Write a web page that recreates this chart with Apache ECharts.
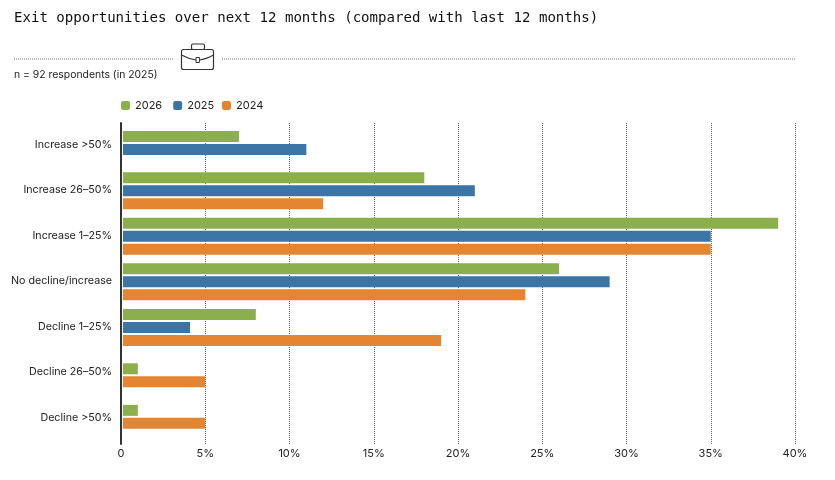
<!DOCTYPE html>
<html><head><meta charset="utf-8">
<style>html,body{margin:0;padding:0;background:#fff}#c{width:835px;height:480px}</style>
<script src="https://cdn.jsdelivr.net/npm/echarts@6/dist/echarts.min.js"></script>
</head><body><div id="c"></div>
<script>
const categories = ['Increase >50%','Increase 26–50%','Increase 1–25%','No decline/increase','Decline 1–25%','Decline 26–50%','Decline >50%'];
const values2026 = [7,18,39,26,8,1,1];
const values2025 = [11,21,35,29,4.1,null,null];
const values2024 = [null,12,35,24,19,5,5];
const seriesNames = ['2026','2025','2024'];
const seriesColors = ['#8AAF4B','#3B75A5','#E48531'];
const allValues = [values2026,values2025,values2024];
const font = 'Inter';
const textColor = '#222';

const BAR_H = 11, PITCH = 13, BASE_GAP = 2;
const groupNudge = [-1.75,0.55,0.55,0.55,0.85,3.05,-0.9];
function renderFor(si){
  return function(params, api){
    const cat = api.value(1);
    const present = allValues.map(a => a[cat] != null);
    const n = present.filter(Boolean).length;
    let slot = 0;
    for (let i = 0; i < si; i++) if (present[i]) slot++;
    const end = api.coord([api.value(0), cat]);
    const zero = api.coord([0, cat]);
    const x0 = zero[0] + BASE_GAP;
    const y = end[1] + groupNudge[cat] + (slot - (n-1)/2) * PITCH - BAR_H/2;
    return {type:'rect', shape:{x:x0, y:y, width:end[0]-x0, height:BAR_H}, style:{fill:seriesColors[si]}};
  };
}
const series = seriesNames.map((name,si)=>({
  name, type:'custom', xAxisIndex:1, yAxisIndex:1,
  renderItem: renderFor(si),
  itemStyle:{color:seriesColors[si]},
  encode:{x:0,y:1},
  data: allValues[si].map((v,i)=> v==null ? null : [v,i]).filter(Boolean),
  silent:true
}));
const legendBase = {top:100,itemWidth:9,itemHeight:9,itemGap:11,icon:'roundRect',padding:0,
  textStyle:{fontFamily:font,fontSize:11,color:textColor}};
const chart = echarts.init(document.getElementById('c'),null,{renderer:'canvas'});
chart.setOption({
  animation:false,
  backgroundColor:'#fff',
  title:{text:'Exit opportunities over next 12 months (compared with last 12 months)',left:14,top:11,padding:0,
    textStyle:{fontFamily:'DejaVu Sans Mono',fontSize:14.07,fontWeight:'normal',color:'#111'}},
  legend:[
    Object.assign({left:121,data:['2026','2025']},legendBase),
    Object.assign({left:222,data:['2024']},legendBase)
  ],
  grid:[
    {left:121,right:40,top:123,height:321},
    {left:121,right:40,top:122,height:318.5}
  ],
  xAxis:[
    {type:'value',gridIndex:0,min:0,max:40,interval:5,
      axisLine:{show:false},axisTick:{show:false},
      splitLine:{show:true,lineStyle:{color:'#666',type:[1,1],width:1}},
      axisLabel:{fontFamily:font,fontSize:11,color:textColor,margin:4,
        formatter:v=>v===0?'0':v+'%'}},
    {type:'value',gridIndex:1,min:0,max:40,show:false}
  ],
  yAxis:[
    {type:'category',gridIndex:0,data:categories,inverse:true,
      axisLine:{show:true,lineStyle:{color:'#333',width:2}},axisTick:{show:false},axisLabel:{show:false},splitLine:{show:false}},
    {type:'category',gridIndex:1,data:categories,inverse:true,
      axisLine:{show:false},axisTick:{show:false},splitLine:{show:false},
      axisLabel:{fontFamily:font,fontSize:10.7,color:textColor,margin:9,interval:0}}
  ],
  series,
  graphic:[
    {type:'line',shape:{x1:14,y1:59,x2:173,y2:59},style:{stroke:'#777',lineWidth:1,lineDash:[1,1]}},
    {type:'line',shape:{x1:222,y1:59,x2:796,y2:59},style:{stroke:'#777',lineWidth:1,lineDash:[1,1]}},
    {type:'text',x:14,y:70,style:{text:'n = 92 respondents (in 2025)',font:'10.4px Inter',fill:textColor}},
    {type:'rect',shape:{x:181.5,y:49.5,width:32,height:20,r:2},style:{fill:'#fff',stroke:'#333',lineWidth:1.2}},
    {type:'rect',shape:{x:191.5,y:44,width:13,height:5.5,r:1.5},style:{fill:'#fff',stroke:'#333',lineWidth:1.2}},
    {type:'bezierCurve',shape:{x1:181.5,y1:55,cpx1:187,cpy1:58,cpx2:192,cpy2:59.5,x2:196,y2:60},style:{fill:'none',stroke:'#333',lineWidth:1.2}},
    {type:'bezierCurve',shape:{x1:199.5,y1:60,cpx1:204,cpy1:59.5,cpx2:208,cpy2:58,x2:213.5,y2:55},style:{fill:'none',stroke:'#333',lineWidth:1.2}},
    {type:'rect',shape:{x:196,y:57.5,width:3.4,height:5},style:{fill:'#fff',stroke:'#333',lineWidth:1}}
  ]
});
</script></body></html>
